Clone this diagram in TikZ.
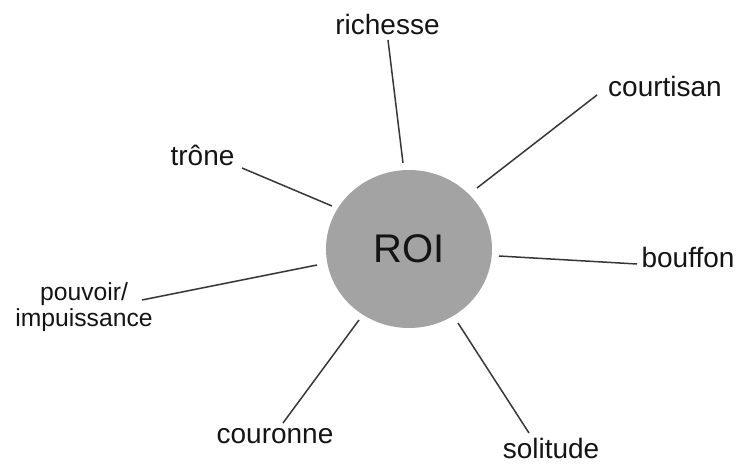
\documentclass[tikz,border=0pt]{standalone}
\usepackage{fontspec}
\setmainfont{Liberation Sans}
\usetikzlibrary{shapes.geometric}
\definecolor{roigray}{RGB}{163,163,163}
\definecolor{linegray}{RGB}{55,55,55}
\definecolor{textblack}{RGB}{20,20,20}
\begin{document}
\begin{tikzpicture}[x=1pt,y=-1pt,
  lbl/.style={anchor=base,inner sep=0pt,text=textblack,font=\fontsize{28}{30}\selectfont},
  conn/.style={draw=linegray,line width=1.5pt}]
\path[use as bounding box] (0,0) rectangle (739,465);
% central node
\node[ellipse,minimum width=166pt,minimum height=158pt,inner sep=0pt,fill=roigray,
      text=textblack,font=\fontsize{40}{42}\selectfont] (roi) at (409,249) {ROI};
% labels
\node[lbl] (richesse) at (387.5,35) {richesse};
\node[lbl] (courtisan) at (665,97) {courtisan};
\node[lbl] (trone) at (202.5,166) {trône};
\node[lbl] (bouffon) at (688,267) {bouffon};
\node[lbl] (couronne) at (275,443) {couronne};
\node[lbl] (solitude) at (551,458) {solitude};
\node[lbl,font=\fontsize{24.7}{26}\selectfont] (pouvoir) at (84,300)
  {\begin{tabular}[t]{@{}c@{}}pouvoir/\\impuissance\end{tabular}};
% connector end points
\coordinate (richL) at (388,40);   \coordinate (richC) at (403,163);
\coordinate (courL) at (597,95);   \coordinate (courC) at (477,188);
\coordinate (tronL) at (242,168);  \coordinate (tronC) at (332,206);
\coordinate (boufL) at (637,264);  \coordinate (boufC) at (499,256);
\coordinate (cournL) at (283,423); \coordinate (cournC) at (359,320);
\coordinate (soliL) at (529,433);  \coordinate (soliC) at (458,323);
\coordinate (pouvL) at (142,300);  \coordinate (pouvC) at (317,265);
% connectors
\draw[conn] (richL) -- (richC);
\draw[conn] (courL) -- (courC);
\draw[conn] (tronL) -- (tronC);
\draw[conn] (boufL) -- (boufC);
\draw[conn] (cournL) -- (cournC);
\draw[conn] (soliL) -- (soliC);
\draw[conn] (pouvL) -- (pouvC);
\end{tikzpicture}
\end{document}
